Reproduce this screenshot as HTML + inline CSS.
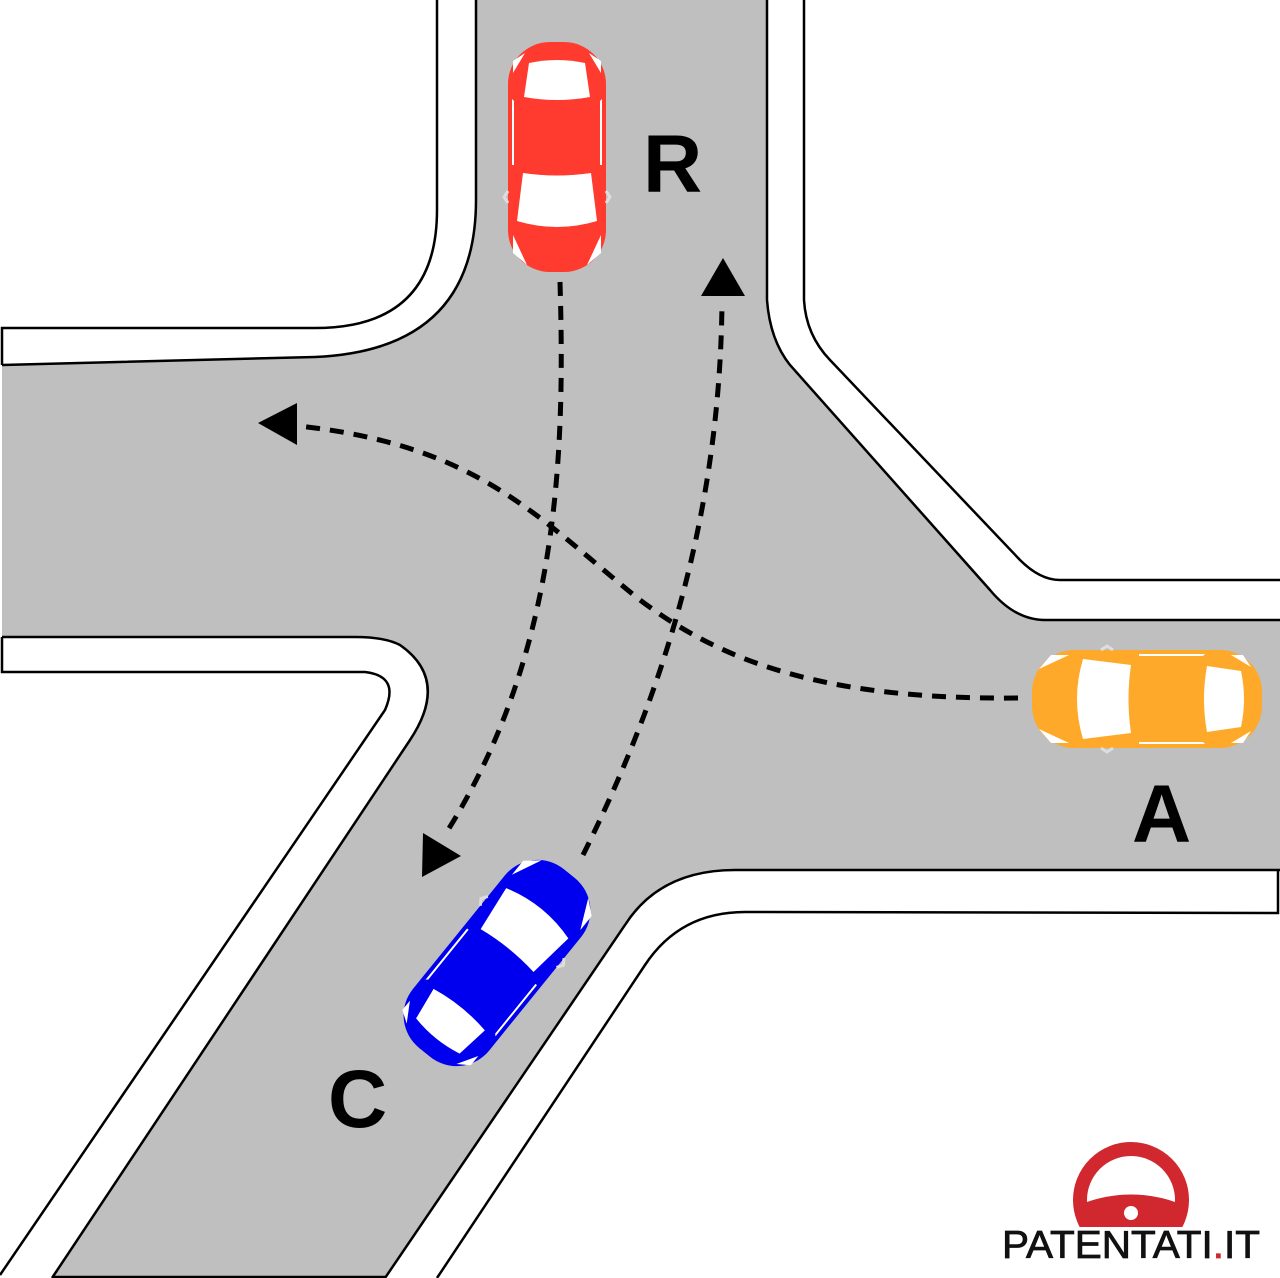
<!DOCTYPE html>
<html><head><meta charset="utf-8"><style>html,body{margin:0;padding:0;background:#fff}svg{display:block}</style></head>
<body>
<svg width="1280" height="1278" viewBox="0 0 1280 1278" xmlns="http://www.w3.org/2000/svg">
<defs>
<g id="car">
<rect x="-49" y="-115" width="98" height="230" rx="42" fill="currentColor"/>
<path d="M-40,-64 Q0,-76 40,-64 L34,-16 Q0,-21 -34,-16 Z" fill="#fff"/>
<path d="M-33,60 Q0,54 33,60 L28,94 Q0,100 -28,94 Z" fill="#fff"/>
<path d="M-45,-8 L-43,-8 L-43,56 L-45,58 Z" fill="#fff"/>
<path d="M45,-8 L43,-8 L43,56 L45,58 Z" fill="#fff"/>
<path d="M-44,-96 L-30,-108 L-44,-78 Z" fill="#fff"/>
<path d="M44,-96 L30,-108 L44,-78 Z" fill="#fff"/>
<path d="M-44,96 L-32,104 L-44,84 Z" fill="#fff"/>
<path d="M44,96 L32,104 L44,84 Z" fill="#fff"/>
<path d="M-49,-46 L-53,-40 L-49,-34" fill="none" stroke="#ddd" stroke-width="3"/>
<path d="M49,-46 L53,-40 L49,-34" fill="none" stroke="#ddd" stroke-width="3"/>
</g>
</defs>
<rect width="1280" height="1278" fill="#fff"/>
<path d="M476,0 L767,0 L767,300 Q770,340 790,365 L990,590 Q1015,620 1045,620 L1280,620 L1280,870 L735,870 Q660,870 625,925 L385,1278 L52,1278 L410,740 Q450,680 400,645 Q385,637 355,637 L2,637 L2,365 L315,357 Q476,350 476,200 Z" fill="#bfbfbf"/>
<g fill="none" stroke="#000" stroke-width="2.5">
<path d="M476,0 L476,200 Q476,350 315,357 L2,365"/>
<path d="M767,0 L767,300 Q770,340 790,365 L990,590 Q1015,620 1045,620 L1280,620"/>
<path d="M1280,870 L735,870 Q660,870 625,925 L385,1278"/>
<path d="M52,1278 L410,740 Q450,680 400,645 Q385,637 355,637 L2,637"/>
<path d="M437,0 L437,210 Q437,328 315,328 L2,328 L2,365"/>
<path d="M804,0 L804,300 Q806,335 830,360 L1020,560 Q1040,580 1060,580 L1280,580"/>
<path d="M1278,870 L1278,913 L745,912 Q680,912 645,965 L437,1278"/>
<path d="M2,637 L2,672 L365,672 Q400,676 385,710 L0,1275"/>
<path d="M52,1277 L385,1277"/>
</g>
<g fill="none" stroke="#000" stroke-width="5" stroke-dasharray="14,10">
<path d="M560,282 C565,450 560,650 448,830"/>
<path d="M583,855 C660,700 720,520 722,302"/>
<path d="M1018,698 C820,700 720,660 640,600 C540,520 480,445 298,426"/>
</g>
<path d="M423,833 L461,856 L422,877 Z" fill="#000"/>
<path d="M723,258 L745,296 L701,296 Z" fill="#000"/>
<path d="M258,423 L297,403 L297,445 Z" fill="#000"/>
<use href="#car" transform="translate(557,157) rotate(180)" style="color:#ff3b2f"/>
<use href="#car" transform="translate(1147,699) rotate(-90)" style="color:#ffa92a"/>
<use href="#car" transform="translate(497,963) rotate(39)" style="color:#0000ee"/>
<g font-family="Liberation Sans, sans-serif" font-weight="bold" font-size="82" fill="#000">
<text x="643" y="192">R</text>
<text x="1132" y="842">A</text>
<text x="328" y="1127">C</text>
</g>
<clipPath id="wc"><rect x="1060" y="1130" width="150" height="97"/></clipPath>
<g clip-path="url(#wc)">
<circle cx="1131" cy="1200" r="51" fill="none" stroke="#d0282e" stroke-width="14"/>
<path d="M1084,1203 Q1131,1186 1178,1203 L1172,1228 L1090,1228 Z" fill="#d0282e"/>
<circle cx="1131" cy="1213" r="7" fill="#fff"/>
</g>
<text x="1002" y="1258" font-family="Liberation Sans, sans-serif" font-size="39" fill="#111" stroke="#111" stroke-width="0.8" textLength="258" lengthAdjust="spacingAndGlyphs">PATENTATI<tspan fill="#d0282e" stroke="#d0282e">.</tspan>IT</text>
</svg>
</body></html>
